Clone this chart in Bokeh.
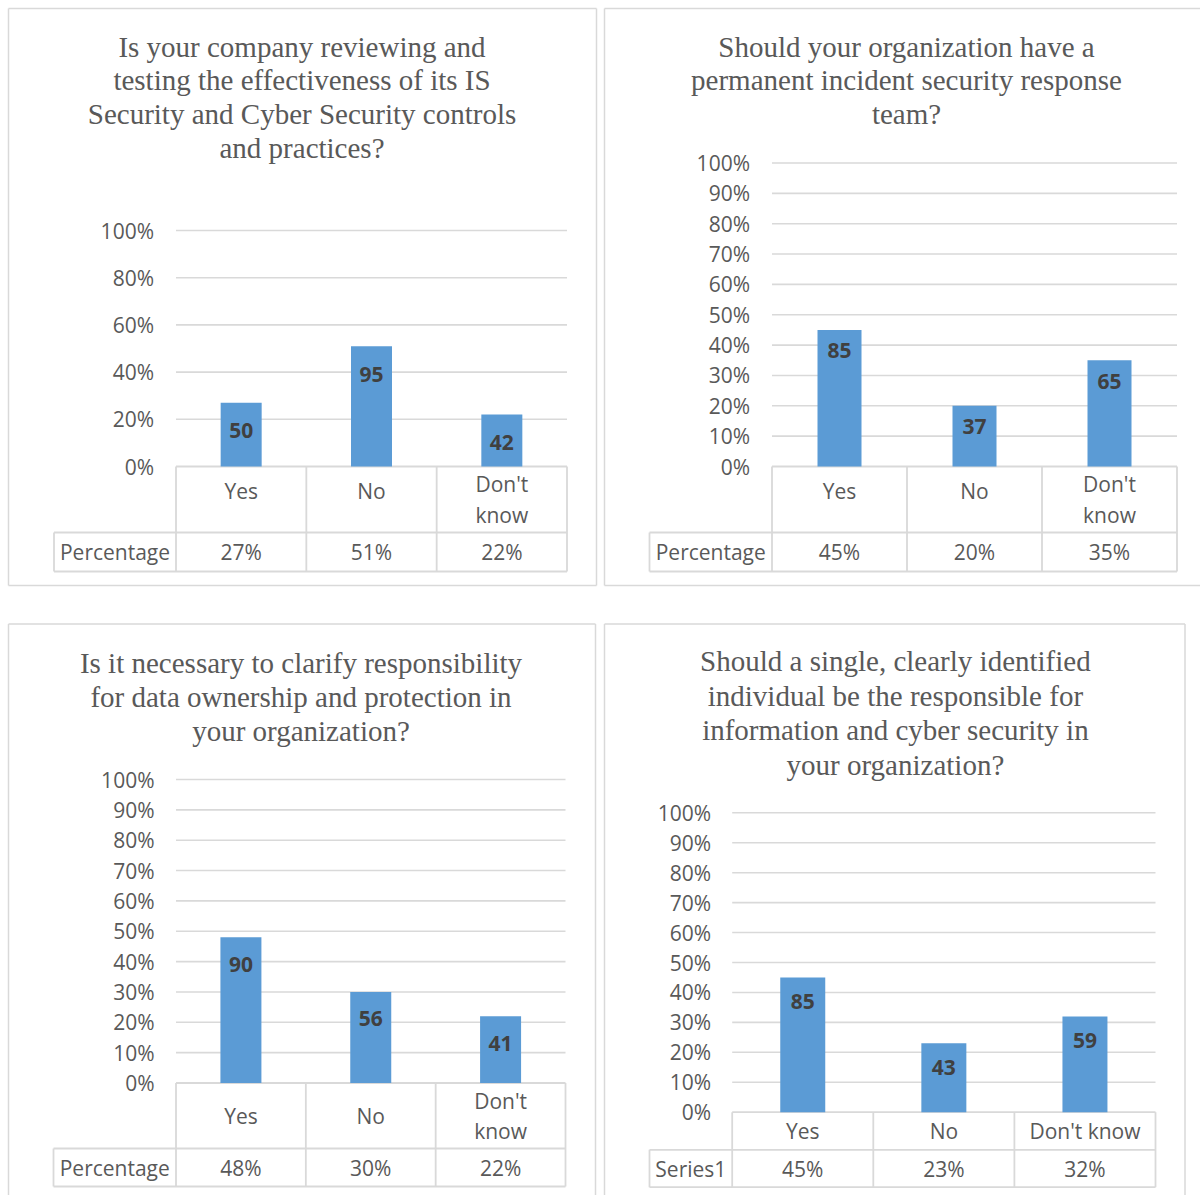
from bokeh.plotting import figure
from bokeh.layouts import row, column
from bokeh.models import Range1d
from bokeh.embed import file_html
from bokeh.resources import INLINE
from bokeh.core.properties import value

# ---------------- data ----------------
q1_title = ["Is your company reviewing and",
            "testing the effectiveness of its IS",
            "Security and Cyber Security controls",
            "and practices?"]
q1_categories = ["Yes", "No", "Don't\nknow"]
q1_counts = [50, 95, 42]
q1_percent = [27, 51, 22]
q1_row_label = "Percentage"
q1_ticks = [0, 20, 40, 60, 80, 100]

q2_title = ["Should your organization have a",
            "permanent incident security response",
            "team?"]
q2_categories = ["Yes", "No", "Don't\nknow"]
q2_counts = [85, 37, 65]
q2_percent = [45, 20, 35]
q2_row_label = "Percentage"
q2_ticks = [0, 10, 20, 30, 40, 50, 60, 70, 80, 90, 100]

q3_title = ["Is it necessary to clarify responsibility",
            "for data ownership and protection in",
            "your organization?"]
q3_categories = ["Yes", "No", "Don't\nknow"]
q3_counts = [90, 56, 41]
q3_percent = [48, 30, 22]
q3_row_label = "Percentage"
q3_ticks = [0, 10, 20, 30, 40, 50, 60, 70, 80, 90, 100]

q4_title = ["Should a single, clearly identified",
            "individual be the responsible for",
            "information and cyber security in",
            "your organization?"]
q4_categories = ["Yes", "No", "Don't know"]
q4_counts = [85, 43, 59]
q4_percent = [45, 23, 32]
q4_row_label = "Series1"
q4_ticks = [0, 10, 20, 30, 40, 50, 60, 70, 80, 90, 100]

# ---------------- style ----------------
BAR = "#5B9BD5"
GRID = "#D9D9D9"
TXT = "#595959"
LBL = "#404040"
SANS = "Open Sans"
SERIF = "Liberation Serif"

# layout of each panel (page pixels)
L1 = dict(ox=0, oy=0, W=600, H=600, border=dict(l=8, r=596, t=8, b=585),
          plot_left=175.5, plot_right=566.5, y0=466, h100=236, tick_right=153.5,
          left_col=53.5, row1b=532, row2b=571, title_cx=301.5, title_y0=46, title_dy=33.8,
          bar_w=41, lbl_off=28, single_shift=9)
L2 = dict(ox=600, oy=0, W=600, H=600, border=dict(l=604, r=None, t=8, b=585),
          plot_left=771.5, plot_right=1176.5, y0=466, h100=303.5, tick_right=749.5,
          left_col=649, row1b=532, row2b=571, title_cx=906, title_y0=46, title_dy=33.8,
          bar_w=44, lbl_off=21, single_shift=9)
L3 = dict(ox=0, oy=600, W=600, H=595, border=dict(l=8, r=595, t=623.5, b=None),
          plot_left=175.5, plot_right=565, y0=1082.5, h100=303.5, tick_right=154,
          left_col=53, row1b=1148, row2b=1186, title_cx=300.5, title_y0=662.6, title_dy=34,
          bar_w=41, lbl_off=27, single_shift=0)
L4 = dict(ox=600, oy=600, W=600, H=595, border=dict(l=604, r=1184.5, t=623.5, b=None),
          plot_left=731.7, plot_right=1155, y0=1111.7, h100=299.4, tick_right=710.7,
          left_col=649, row1b=1149.3, row2b=1186.7, title_cx=894.9, title_y0=660.7, title_dy=34.5,
          bar_w=45, lbl_off=24, single_shift=0)


def make_panel(title, cats, counts, pcts, row_label, ticks, L):
    n = len(cats)
    cat_w = (L["plot_right"] - L["plot_left"]) / n

    def X(px):
        return -0.5 + (px - L["plot_left"]) / cat_w

    def Y(py):
        return (L["y0"] - py) / L["h100"]

    ox, oy, W, H = L["ox"], L["oy"], L["W"], L["H"]
    p = figure(width=W, height=H,
               x_range=Range1d(X(ox), X(ox + W)), y_range=Range1d(Y(oy + H), Y(oy)),
               min_border=0, toolbar_location=None, output_backend="svg",
               x_axis_location=None, y_axis_location=None)
    p.grid.visible = False
    p.outline_line_color = None
    p.background_fill_color = "white"
    p.border_fill_color = "white"

    # panel border
    b = L["border"]
    right = b["r"] if b["r"] is not None else ox + W + 5
    bottom = b["b"] if b["b"] is not None else oy + H + 5
    bx0, by0, bx1, by1 = [], [], [], []
    bx0.append(X(b["l"])); by0.append(Y(b["t"])); bx1.append(X(right)); by1.append(Y(b["t"]))
    bx0.append(X(b["l"])); by0.append(Y(b["t"])); bx1.append(X(b["l"])); by1.append(Y(bottom))
    if b["r"] is not None:
        bx0.append(X(b["r"])); by0.append(Y(b["t"])); bx1.append(X(b["r"])); by1.append(Y(bottom))
    if b["b"] is not None:
        bx0.append(X(b["l"])); by0.append(Y(b["b"])); bx1.append(X(right)); by1.append(Y(b["b"]))
    p.segment(x0=bx0, y0=by0, x1=bx1, y1=by1, line_color=GRID, line_width=1.5)

    # gridlines
    gy = [t / 100 for t in ticks if t > 0]
    p.segment(x0=[X(L["plot_left"])] * len(gy), x1=[X(L["plot_right"])] * len(gy),
              y0=gy, y1=gy, line_color=GRID, line_width=1.6)

    # tick labels
    p.text(x=[X(L["tick_right"])] * len(ticks), y=[t / 100 for t in ticks],
           text=[f"{t}%" for t in ticks], text_align="right", text_baseline="middle",
           text_font=value(SANS), text_font_size=value("21px"), text_color=TXT)

    # data table lines
    r1 = Y(L["row1b"])
    r2 = Y(L["row2b"])
    xl = X(L["left_col"])
    hx0 = [-0.5, xl, xl]
    hx1 = [n - 0.5, n - 0.5, n - 0.5]
    hy = [0, r1, r2]
    p.segment(x0=hx0, x1=hx1, y0=hy, y1=hy, line_color=GRID, line_width=1.8)
    vx = [k - 0.5 for k in range(n + 1)] + [xl]
    vy0 = [0] * (n + 1) + [r1]
    vy1 = [r2] * (n + 2)
    p.segment(x0=vx, x1=vx, y0=vy0, y1=vy1, line_color=GRID, line_width=1.8)

    # bars
    idx = list(range(n))
    p.vbar(x=idx, top=[v / 100 for v in pcts], bottom=0, width=L["bar_w"] / cat_w,
           fill_color=BAR, line_color=None)

    # data labels
    p.text(x=idx, y=[v / 100 - L["lbl_off"] / L["h100"] for v in pcts],
           text=[str(c) for c in counts], text_align="center", text_baseline="middle",
           text_font=value(SANS), text_font_style="bold", text_font_size=value("21px"),
           text_color=LBL)

    # category row
    row1_mid = (L["y0"] + L["row1b"]) / 2
    cy = [Y(row1_mid - (0 if "\n" in c else L["single_shift"])) for c in cats]
    p.text(x=idx, y=cy, text=cats, text_align="center", text_baseline="middle",
           text_font=value(SANS), text_font_size=value("21px"), text_color=TXT,
           text_line_height=1.08)

    # value row
    row2_mid = (L["row1b"] + L["row2b"]) / 2
    p.text(x=idx + [X((L["left_col"] + L["plot_left"]) / 2)],
           y=[Y(row2_mid)] * (n + 1),
           text=[f"{v}%" for v in pcts] + [row_label],
           text_align="center", text_baseline="middle",
           text_font=value(SANS), text_font_size=value("21px"), text_color=TXT)

    # title
    ty = [Y(L["title_y0"] + i * L["title_dy"]) for i in range(len(title))]
    p.text(x=[X(L["title_cx"])] * len(title), y=ty, text=title,
           text_align="center", text_baseline="middle",
           text_font=value(SERIF), text_font_size=value("29px"), text_color=TXT)
    return p


p1 = make_panel(q1_title, q1_categories, q1_counts, q1_percent, q1_row_label, q1_ticks, L1)
p2 = make_panel(q2_title, q2_categories, q2_counts, q2_percent, q2_row_label, q2_ticks, L2)
p3 = make_panel(q3_title, q3_categories, q3_counts, q3_percent, q3_row_label, q3_ticks, L3)
p4 = make_panel(q4_title, q4_categories, q4_counts, q4_percent, q4_row_label, q4_ticks, L4)

layout = column(row(p1, p2, spacing=0), row(p3, p4, spacing=0), spacing=0)

with open("out.html", "w") as f:
    f.write(file_html(layout, INLINE, title="Survey charts"))
